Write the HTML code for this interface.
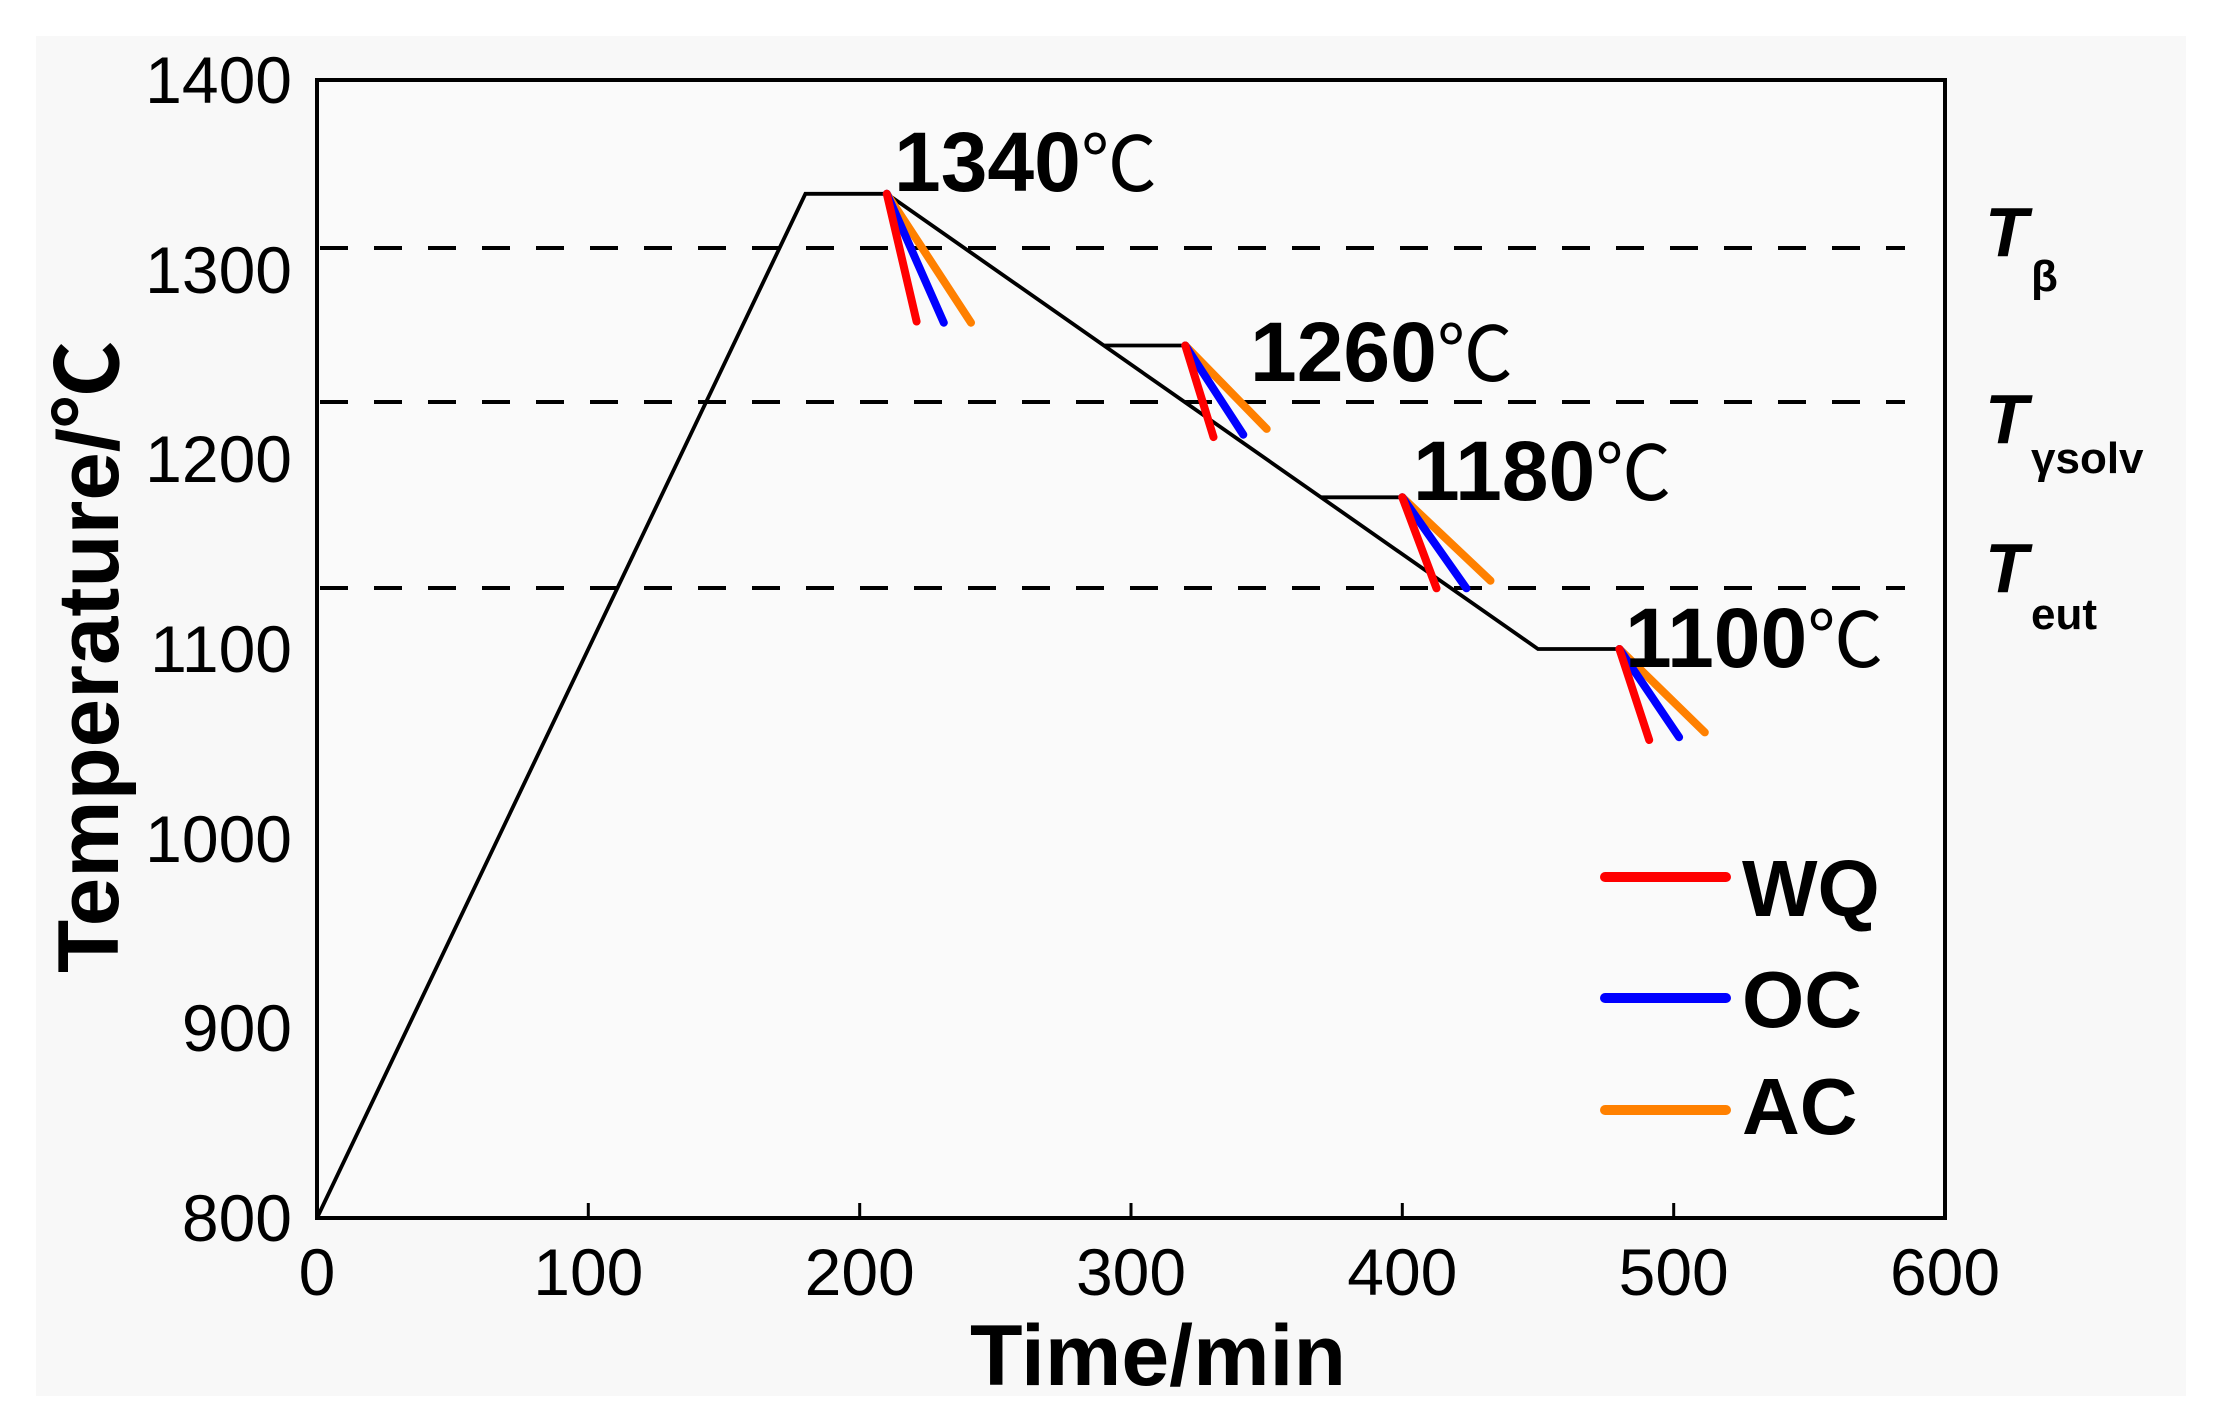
<!DOCTYPE html>
<html><head><meta charset="utf-8"><style>
html,body{margin:0;padding:0;background:#fff}
svg{display:block}
text{font-family:"Liberation Sans","Noto Sans CJK SC",sans-serif;fill:#000}
</style></head><body>
<svg width="2227" height="1427" viewBox="0 0 2227 1427" xmlns="http://www.w3.org/2000/svg">
<rect x="0" y="0" width="2227" height="1427" fill="#fff"/>
<rect x="36" y="36" width="2150" height="1360" fill="#f8f8f8"/>
<rect x="317" y="80" width="1628" height="1138" fill="#fafafa"/>
<g stroke="#000" stroke-width="4" stroke-dasharray="28,26">
<line x1="320" y1="248" x2="1905" y2="248"/>
<line x1="320" y1="402" x2="1905" y2="402"/>
<line x1="320" y1="588" x2="1905" y2="588"/>
</g>
<g fill="none" stroke="#000" stroke-width="3.8" stroke-linejoin="miter">
<polyline points="317,1218 805.4,193.8 886.8,193.8 1538,649 1619.4,649"/>
<line x1="1103.9" y1="345.5" x2="1185.3" y2="345.5"/>
<line x1="1321" y1="497.3" x2="1402.3" y2="497.3"/>
</g>
<g stroke-width="8" stroke-linecap="round">
<line x1="886.8" y1="193.8" x2="971" y2="322.7" stroke="#ff8000"/>
<line x1="886.8" y1="193.8" x2="943.8" y2="322.7" stroke="#0000ff"/>
<line x1="886.8" y1="193.8" x2="916.6" y2="321.5" stroke="#ff0000"/>
<line x1="1185.3" y1="345.5" x2="1266.7" y2="428.9" stroke="#ff8000"/>
<line x1="1185.3" y1="345.5" x2="1243.3" y2="434.7" stroke="#0000ff"/>
<line x1="1185.3" y1="345.5" x2="1213.5" y2="437.1" stroke="#ff0000"/>
<line x1="1402.3" y1="497.3" x2="1490.5" y2="580.7" stroke="#ff8000"/>
<line x1="1402.3" y1="497.3" x2="1466.4" y2="588.3" stroke="#0000ff"/>
<line x1="1402.3" y1="497.3" x2="1436.5" y2="588.3" stroke="#ff0000"/>
<line x1="1619.4" y1="649" x2="1704.8" y2="732.4" stroke="#ff8000"/>
<line x1="1619.4" y1="649" x2="1679.1" y2="737.2" stroke="#0000ff"/>
<line x1="1619.4" y1="649" x2="1649.2" y2="740" stroke="#ff0000"/>
</g>
<rect x="317" y="80" width="1628" height="1138" fill="none" stroke="#000" stroke-width="4"/>
<g stroke="#000" stroke-width="3">
<line x1="588.3" y1="1218" x2="588.3" y2="1203"/>
<line x1="859.7" y1="1218" x2="859.7" y2="1203"/>
<line x1="1131" y1="1218" x2="1131" y2="1203"/>
<line x1="1402.3" y1="1218" x2="1402.3" y2="1203"/>
<line x1="1673.7" y1="1218" x2="1673.7" y2="1203"/>
</g>
<g font-size="66" text-anchor="end">
<text x="292" y="103">1400</text>
<text x="292" y="293">1300</text>
<text x="292" y="482">1200</text>
<text x="292" y="672">1100</text>
<text x="292" y="862">1000</text>
<text x="292" y="1051">900</text>
<text x="292" y="1241">800</text>
</g>
<g font-size="66" text-anchor="middle">
<text x="317" y="1295">0</text>
<text x="588.3" y="1295">100</text>
<text x="859.7" y="1295">200</text>
<text x="1131" y="1295">300</text>
<text x="1402.3" y="1295">400</text>
<text x="1673.7" y="1295">500</text>
<text x="1945" y="1295">600</text>
</g>
<text x="1158" y="1385" font-size="86" font-weight="bold" text-anchor="middle" textLength="376" lengthAdjust="spacingAndGlyphs">Time/min</text>
<text transform="translate(118,657) rotate(-90)" font-size="86" font-weight="bold" text-anchor="middle" textLength="632" lengthAdjust="spacingAndGlyphs">Temperature/℃</text>
<g font-size="84">
<text x="894" y="191"><tspan font-weight="bold">1340</tspan><tspan font-size="76">℃</tspan></text>
<text x="1250" y="381"><tspan font-weight="bold">1260</tspan><tspan font-size="76">℃</tspan></text>
<text x="1413" y="500"><tspan font-weight="bold">1180</tspan><tspan font-size="76">℃</tspan></text>
<text x="1625" y="667"><tspan font-weight="bold">1100</tspan><tspan font-size="76">℃</tspan></text>
</g>
<g font-weight="bold">
<text x="1985" y="256" font-size="70" font-style="italic">T</text>
<text x="2031" y="291" font-size="44">β</text>
<text x="1985" y="443" font-size="70" font-style="italic">T</text>
<text x="2031" y="473" font-size="44">γsolv</text>
<text x="1985" y="592" font-size="70" font-style="italic">T</text>
<text x="2031" y="629" font-size="44">eut</text>
</g>
<g stroke-width="10" stroke-linecap="round">
<line x1="1605" y1="877" x2="1726" y2="877" stroke="#ff0000"/>
<line x1="1605" y1="998" x2="1726" y2="998" stroke="#0000ff"/>
<line x1="1605" y1="1110" x2="1726" y2="1110" stroke="#ff8000"/>
</g>
<g font-size="80" font-weight="bold">
<text x="1742" y="916">WQ</text>
<text x="1742" y="1027">OC</text>
<text x="1742" y="1134">AC</text>
</g>
</svg>
</body></html>
